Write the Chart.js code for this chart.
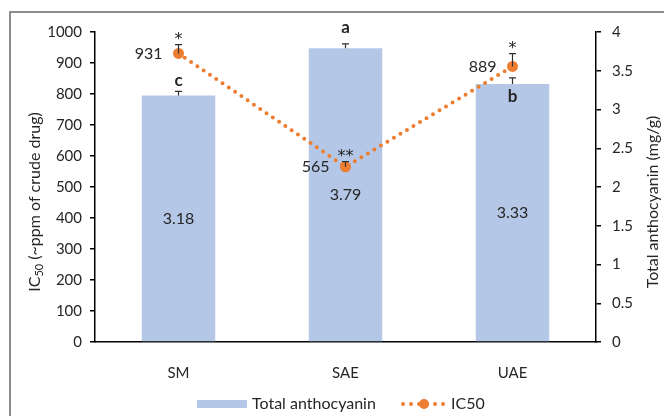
<!DOCTYPE html>
<html>
<head>
<meta charset="utf-8">
<script src="https://cdn.jsdelivr.net/npm/chart.js@4.4.1/dist/chart.umd.min.js"></script>
<style>
  html, body { margin: 0; padding: 0; background: #fff; }
  #wrap { width: 664px; height: 416px; position: relative; }
</style>
</head>
<body>
<div id="wrap"><canvas id="chart"></canvas></div>
<script>
// Extraction methods
const categories = ['SM', 'SAE', 'UAE'];
// Total anthocyanin content (mg/g) with standard deviation
const anthocyanin = [3.18, 3.79, 3.33];
const anthocyaninErr = [0.055, 0.057, 0.077];
const anthocyaninLetters = ['c', 'a', 'b'];
// IC50 (ppm of crude drug) with standard deviation
const ic50 = [931, 565, 889];
const ic50Err = [28, 17, 41];
const ic50Marks = ['*', '**', '*'];

const FONT = 'Lato, "Open Sans", "DejaVu Sans", sans-serif';
const TEXT = '#262626';
const BAR_COLOR = '#B4C7E7';
const LINE_COLOR = '#ED7D31';

// offsets of the significance letters from the bar tops
const letterOffset = [-15, -21, 13];

function errorBar(ctx, x, y0, y1, half) {
  ctx.beginPath();
  ctx.moveTo(x, y0);
  ctx.lineTo(x, y1);
  ctx.moveTo(x - half, y1);
  ctx.lineTo(x + half, y1);
  ctx.stroke();
}

const decorations = {
  id: 'decorations',
  beforeDraw(chart) {
    const ctx = chart.ctx;
    ctx.save();
    ctx.fillStyle = '#fff';
    ctx.fillRect(0, 0, chart.width, chart.height);
    ctx.strokeStyle = '#8c8c8c';
    ctx.lineWidth = 2;
    ctx.strokeRect(10, 12, chart.width + 20, chart.height + 20);
    ctx.restore();
  },
  afterDatasetsDraw(chart) {
    const ctx = chart.ctx;
    const yL = chart.scales.y;
    const yR = chart.scales.y1;
    const lineMeta = chart.getDatasetMeta(0);
    const barMeta = chart.getDatasetMeta(1);
    ctx.save();
    ctx.strokeStyle = '#303030';
    ctx.lineWidth = 1.2;

    // bar error bars, letters and centred value labels
    barMeta.data.forEach((el, i) => {
      const x = el.x;
      const top = yR.getPixelForValue(anthocyanin[i]);
      const errTop = yR.getPixelForValue(anthocyanin[i] + anthocyaninErr[i]);
      errorBar(ctx, x, top, errTop, 3.5);

      ctx.fillStyle = TEXT;
      ctx.textAlign = 'center';
      ctx.textBaseline = 'middle';
      ctx.font = '16px ' + FONT;
      ctx.fillText(anthocyanin[i].toFixed(2), x, (top + el.base) / 2);

      ctx.font = 'bold 17px ' + FONT;
      ctx.fillText(anthocyaninLetters[i], x, top + letterOffset[i]);
    });

    // IC50 error bars, value labels and asterisks
    lineMeta.data.forEach((pt, i) => {
      const x = pt.x;
      const y = pt.y;
      const errTop = yL.getPixelForValue(ic50[i] + ic50Err[i]);
      errorBar(ctx, x, y, errTop, 3.5);

      ctx.fillStyle = TEXT;
      ctx.font = '16px ' + FONT;
      ctx.textAlign = 'right';
      ctx.textBaseline = 'middle';
      ctx.fillText(String(ic50[i]), x - 16, y);

      ctx.font = '16px "DejaVu Sans", sans-serif';
      ctx.textAlign = 'center';
      ctx.textBaseline = 'alphabetic';
      ctx.fillText(ic50Marks[i], x, errTop - 0.5);
    });
    ctx.restore();
  },
  afterDraw(chart) {
    const ctx = chart.ctx;
    const midY = 202;
    ctx.save();
    ctx.fillStyle = TEXT;
    ctx.textBaseline = 'middle';

    // left axis title with subscript
    ctx.save();
    ctx.translate(35, midY);
    ctx.rotate(-Math.PI / 2);
    const big = '16px ' + FONT, small = '11px ' + FONT;
    ctx.font = big; const w1 = ctx.measureText('IC').width;
    ctx.font = small; const w2 = ctx.measureText('50').width;
    ctx.font = big; const w3 = ctx.measureText(' (~ppm of crude drug)').width;
    let sx = -(w1 + w2 + w3) / 2;
    ctx.textAlign = 'left';
    ctx.font = big; ctx.fillText('IC', sx, 0); sx += w1;
    ctx.font = small; ctx.fillText('50', sx, 4); sx += w2;
    ctx.font = big; ctx.fillText(' (~ppm of crude drug)', sx, 0);
    ctx.restore();

    // right axis title
    ctx.save();
    ctx.translate(653, midY);
    ctx.rotate(-Math.PI / 2);
    ctx.textAlign = 'center';
    ctx.font = '16px ' + FONT;
    ctx.fillText('Total anthocyanin (mg/g)', 0, 0);
    ctx.restore();

    // legend
    const ly = 404;
    ctx.fillStyle = BAR_COLOR;
    ctx.fillRect(197, ly - 4, 50, 8);
    ctx.fillStyle = TEXT;
    ctx.font = '16px ' + FONT;
    ctx.textAlign = 'left';
    ctx.fillText('Total anthocyanin', 252, ly);

    ctx.strokeStyle = LINE_COLOR;
    ctx.lineWidth = 4;
    ctx.lineCap = 'round';
    ctx.setLineDash([0, 8]);
    ctx.beginPath();
    ctx.moveTo(403, ly);
    ctx.lineTo(445, ly);
    ctx.stroke();
    ctx.setLineDash([]);
    ctx.fillStyle = LINE_COLOR;
    ctx.beginPath();
    ctx.arc(424, ly, 5, 0, Math.PI * 2);
    ctx.fill();
    ctx.fillStyle = TEXT;
    ctx.fillText('IC50', 451, ly);
    ctx.restore();
  }
};

const tickFont = { family: FONT, size: 15 };

new Chart(document.getElementById('chart'), {
  data: {
    labels: categories,
    datasets: [
      {
        type: 'line',
        label: 'IC50',
        data: ic50,
        yAxisID: 'y',
        order: 0,
        borderColor: LINE_COLOR,
        borderWidth: 4,
        borderDash: [0, 7.6],
        borderCapStyle: 'round',
        tension: 0,
        fill: false,
        pointRadius: 5.5,
        pointBackgroundColor: LINE_COLOR,
        pointBorderColor: LINE_COLOR,
        pointBorderWidth: 0
      },
      {
        type: 'bar',
        label: 'Total anthocyanin',
        data: anthocyanin,
        yAxisID: 'y1',
        order: 1,
        backgroundColor: BAR_COLOR,
        categoryPercentage: 1,
        barPercentage: 0.44
      }
    ]
  },
  options: {
    responsive: true,
    maintainAspectRatio: false,
    animation: false,
    layout: { padding: { top: 32, left: 0, right: 0, bottom: 0 } },
    plugins: { legend: { display: false }, tooltip: { enabled: false } },
    scales: {
      x: {
        offset: true,
        grid: { display: false },
        border: { display: true, color: '#000', width: 1.5 },
        ticks: { color: TEXT, font: tickFont, padding: 14 },
        afterFit(s) { s.height = 74; }
      },
      y: {
        position: 'left',
        min: 0,
        max: 1000,
        ticks: { stepSize: 100, color: TEXT, font: tickFont, padding: 8, callback: v => String(v) },
        grid: { drawOnChartArea: false, drawTicks: true, tickLength: 5, color: '#000', lineWidth: 1.5 },
        border: { display: true, color: '#000', width: 1.5 },
        afterFit(s) { s.width = 95; }
      },
      y1: {
        position: 'right',
        min: 0,
        max: 4,
        ticks: { stepSize: 0.5, color: TEXT, font: tickFont, padding: 11, callback: v => String(v) },
        grid: { drawOnChartArea: false, drawTicks: true, tickLength: 5, color: '#000', lineWidth: 1.5 },
        border: { display: true, color: '#000', width: 1.5 },
        afterFit(s) { s.width = 68; }
      }
    }
  },
  plugins: [decorations]
});
</script>
</body>
</html>
